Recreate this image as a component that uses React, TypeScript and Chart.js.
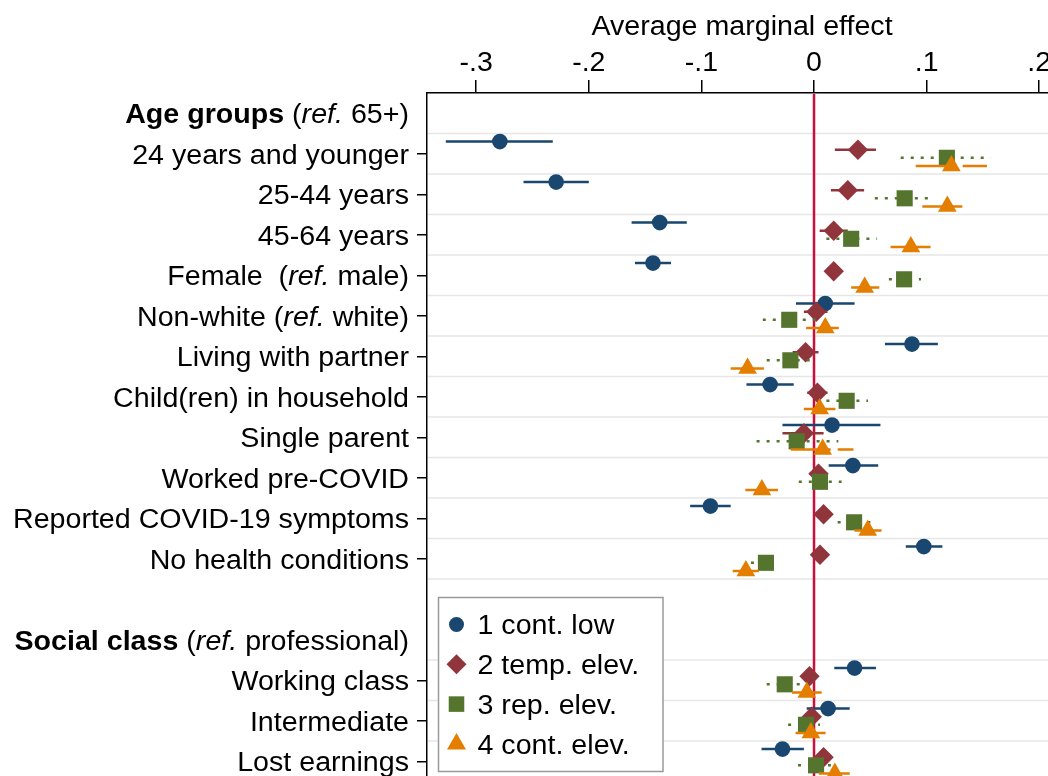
import React, { useEffect, useRef } from "react";
import { Chart, registerables } from "chart.js";

Chart.register(...registerables);

// ---------------- data ----------------
const rowLabels: string[] = [
  "**Age groups** (*ref.* 65+)",
  "24 years and younger",
  "25-44 years",
  "45-64 years",
  "Female  (*ref.* male)",
  "Non-white (*ref.* white)",
  "Living with partner",
  "Child(ren) in household",
  "Single parent",
  "Worked pre-COVID",
  "Reported COVID-19 symptoms",
  "No health conditions",
  "",
  "**Social class** (*ref.* professional)",
  "Working class",
  "Intermediate",
  "Lost earnings",
];

// rows (index into rowLabels) that carry coefficients
const coefRows = [1, 2, 3, 4, 5, 6, 7, 8, 9, 10, 11, 14, 15, 16];

const seriesNames = ["1 cont. low", "2 temp. elev.", "3 rep. elev.", "4 cont. elev."];

const contLowEst = [-0.279, -0.229, -0.137, -0.143, 0.01, 0.087, -0.039, 0.016, 0.0345, -0.092, 0.0975, 0.036, 0.0125, -0.028];
const contLowLo = [-0.327, -0.258, -0.162, -0.159, -0.016, 0.063, -0.06, -0.028, 0.013, -0.11, 0.0815, 0.018, -0.0065, -0.0466];
const contLowHi = [-0.232, -0.2, -0.113, -0.127, 0.036, 0.11, -0.018, 0.059, 0.057, -0.074, 0.114, 0.055, 0.0317, -0.009];

const tempElevEst = [0.039, 0.03, 0.0175, 0.0175, 0.002, -0.0075, 0.003, -0.009, 0.004, 0.0085, 0.0053, -0.004, -0.002, 0.0085];
const tempElevLo = [0.0185, 0.015, 0.005, 0.011, -0.009, -0.019, -0.006, -0.028, -0.004, 0.001, -0.002, -0.011, -0.009, 0.001];
const tempElevHi = [0.055, 0.0445, 0.03, 0.024, 0.012, 0.004, 0.012, 0.0085, 0.012, 0.016, 0.0125, 0.003, 0.005, 0.016];

const repElevEst = [0.118, 0.0805, 0.033, 0.08, -0.022, -0.021, 0.029, -0.0154, 0.0053, 0.0356, -0.0427, -0.026, -0.0071, 0.0018];
const repElevLo = [0.077, 0.054, 0.011, 0.0665, -0.0455, -0.042, 0.011, -0.051, -0.0135, 0.021, -0.056, -0.042, -0.023, -0.0142];
const repElevHi = [0.157, 0.103, 0.056, 0.095, 0.0025, -0.003, 0.048, 0.0216, 0.0245, 0.05, -0.0295, -0.0117, 0.0053, 0.015];

const contElevEst = [0.122, 0.1184, 0.086, 0.045, 0.01, -0.059, 0.005, 0.0077, -0.0463, 0.0477, -0.0605, -0.0064, -0.0028, 0.0185];
const contElevLo = [0.0903, 0.0962, 0.068, 0.033, -0.007, -0.074, -0.009, -0.0207, -0.061, 0.036, -0.0722, -0.0196, -0.0164, 0.0043];
const contElevHi = [0.1536, 0.134, 0.106, 0.058, 0.022, -0.0445, 0.019, 0.035, -0.032, 0.06, -0.049, 0.0068, 0.0103, 0.0317];

const xTickValues = [-0.3, -0.2, -0.1, 0, 0.1, 0.2];
const xTickLabels = ["-.3", "-.2", "-.1", "0", ".1", ".2"];
const xTitle = "Average marginal effect";

// ---------------- styling / layout ----------------
const FAMILY = "'Liberation Sans', Arial, Helvetica, sans-serif";
const W = 1048;
const H = 776;
const X_MIN = -0.3437;
const X_MAX = 0.2078;
const Y_MIN = -0.5;
const Y_MAX = 16.364;
const OFFSETS = [-0.3, -0.1, 0.1, 0.3];
const TEXT_SIZE = 27;
const TEXT_STRETCH = 1.06;
const TEXT_DY = 2.5;
const TITLE_CX = 742;
const TITLE_CY = 25;

type Series = {
  name: string;
  est: number[];
  lo: number[];
  hi: number[];
  color: string;
  marker: string;
  radius: number;
  dash: number[];
};

const SERIES: Series[] = [
  { name: seriesNames[0], est: contLowEst, lo: contLowLo, hi: contLowHi, color: "#1a476f", marker: "circle", radius: 7.8, dash: [] },
  { name: seriesNames[1], est: tempElevEst, lo: tempElevLo, hi: tempElevHi, color: "#90353b", marker: "rectRot", radius: 10.2, dash: [] },
  { name: seriesNames[2], est: repElevEst, lo: repElevLo, hi: repElevHi, color: "#55752f", marker: "rect", radius: 11.4, dash: [3, 7] },
  { name: seriesNames[3], est: contElevEst, lo: contElevLo, hi: contElevHi, color: "#e37e00", marker: "triangle", radius: 10.8, dash: [40, 7] },
];

type Seg = { text: string; bold: boolean; italic: boolean };
function parseMarkup(s: string): Seg[] {
  const parts = s.split(/(\*\*[^*]+\*\*|\*[^*]+\*)/).filter((p) => p.length > 0);
  return parts.map((p) => {
    if (p.startsWith("**")) return { text: p.slice(2, -2), bold: true, italic: false };
    if (p.startsWith("*")) return { text: p.slice(1, -1), bold: false, italic: true };
    return { text: p, bold: false, italic: false };
  });
}

function segFont(s: Seg) {
  return `${s.italic ? "italic " : ""}${s.bold ? "bold " : ""}${TEXT_SIZE}px ${FAMILY}`;
}

function drawRich(ctx: CanvasRenderingContext2D, markup: string, x: number, cy: number, align: "left" | "right" | "center") {
  const segs = parseMarkup(markup);
  let total = 0;
  const widths = segs.map((s) => {
    ctx.font = segFont(s);
    const w = ctx.measureText(s.text).width;
    total += w;
    return w;
  });
  ctx.save();
  ctx.translate(x, cy + TEXT_DY);
  ctx.scale(TEXT_STRETCH, 1);
  ctx.textAlign = "left";
  ctx.textBaseline = "middle";
  ctx.fillStyle = "#000";
  let cx = align === "right" ? -total : align === "center" ? -total / 2 : 0;
  segs.forEach((s, i) => {
    ctx.font = segFont(s);
    ctx.fillText(s.text, cx, 0);
    cx += widths[i];
  });
  ctx.restore();
}

function drawMarker(ctx: CanvasRenderingContext2D, style: string, x: number, y: number, r: number, color: string) {
  ctx.save();
  ctx.fillStyle = color;
  ctx.beginPath();
  if (style === "circle") {
    ctx.arc(x, y, r, 0, Math.PI * 2);
  } else if (style === "rectRot") {
    ctx.moveTo(x - r, y);
    ctx.lineTo(x, y - r);
    ctx.lineTo(x + r, y);
    ctx.lineTo(x, y + r);
    ctx.closePath();
  } else if (style === "rect") {
    const h = r * Math.SQRT1_2;
    ctx.rect(x - h, y - h, 2 * h, 2 * h);
  } else {
    ctx.moveTo(x, y - r);
    ctx.lineTo(x + 0.8660254 * r, y + 0.5 * r);
    ctx.lineTo(x - 0.8660254 * r, y + 0.5 * r);
    ctx.closePath();
  }
  ctx.fill();
  ctx.restore();
}

const decorPlugin = {
  id: "decor",
  beforeDatasetsDraw(chart: any) {
    const { ctx, chartArea } = chart;
    const x = chart.scales.x;
    const y = chart.scales.y;
    ctx.save();
    const bounds = new Set<number>();
    coefRows.forEach((r) => {
      bounds.add(r - 0.5);
      bounds.add(r + 0.5);
    });
    ctx.strokeStyle = "#e6e6e6";
    ctx.lineWidth = 1.6;
    bounds.forEach((b) => {
      const py = y.getPixelForValue(b);
      ctx.beginPath();
      ctx.moveTo(chartArea.left + 1, py);
      ctx.lineTo(chartArea.right, py);
      ctx.stroke();
    });
    const px = x.getPixelForValue(0);
    ctx.strokeStyle = "rgb(200,16,58)";
    ctx.lineWidth = 2.5;
    ctx.beginPath();
    ctx.moveTo(px, chartArea.top + 1);
    ctx.lineTo(px, chartArea.bottom);
    ctx.stroke();
    ctx.restore();
  },
  afterDraw(chart: any) {
    const { ctx, chartArea } = chart;
    const y = chart.scales.y;
    // axis title
    drawRich(ctx, xTitle, TITLE_CX, TITLE_CY, "center");
    // category labels
    rowLabels.forEach((lab, i) => {
      if (!lab) return;
      drawRich(ctx, lab, chartArea.left - 18, y.getPixelForValue(i), "right");
    });
    // legend
    const lx = chartArea.left + 11.5;
    const ly = chartArea.top + 504.5;
    const lw = 224.5;
    const lh = 174;
    ctx.save();
    ctx.fillStyle = "#fff";
    ctx.fillRect(lx, ly, lw, lh);
    ctx.strokeStyle = "#9a9a9a";
    ctx.lineWidth = 1.5;
    ctx.strokeRect(lx, ly, lw, lh);
    ctx.restore();
    SERIES.forEach((s, k) => {
      const cy = ly + 27 + k * 39.8;
      const r = s.marker === "circle" ? 7.5 : s.marker === "rectRot" ? 10 : 11;
      drawMarker(ctx, s.marker, lx + 18, cy, r, s.color);
      drawRich(ctx, s.name, lx + 39, cy, "left");
    });
  },
};

function buildDatasets() {
  const ds: any[] = [];
  SERIES.forEach((s, k) => {
    const ci: any[] = [];
    coefRows.forEach((r, i) => {
      const yy = r + OFFSETS[k];
      ci.push({ x: s.lo[i], y: yy }, { x: s.hi[i], y: yy }, { x: s.hi[i], y: null });
    });
    ds.push({
      type: "line",
      label: s.name + " CI",
      data: ci,
      borderColor: s.color,
      backgroundColor: s.color,
      borderWidth: 2.5,
      borderDash: s.dash,
      pointRadius: 0,
      pointHoverRadius: 0,
      showLine: true,
      spanGaps: false,
      fill: false,
      tension: 0,
      order: 8 - 2 * k,
    });
    ds.push({
      type: "scatter",
      label: s.name,
      data: coefRows.map((r, i) => ({ x: s.est[i], y: r + OFFSETS[k] })),
      pointStyle: s.marker,
      pointRadius: s.radius,
      pointHoverRadius: s.radius,
      backgroundColor: s.color,
      borderColor: s.color,
      pointBorderWidth: 0,
      showLine: false,
      order: 7 - 2 * k,
    });
  });
  return ds;
}

export default function App() {
  const ref = useRef<HTMLCanvasElement>(null);
  useEffect(() => {
    if (!ref.current) return;
    const chart = new Chart(ref.current, {
      type: "scatter",
      data: { datasets: buildDatasets() },
      plugins: [decorPlugin],
      options: {
        animation: false,
        responsive: false,
        devicePixelRatio: 1,
        events: [],
        layout: { padding: 0, autoPadding: false },
        plugins: { legend: { display: false }, tooltip: { enabled: false } },
        scales: {
          x: {
            type: "linear",
            position: "top",
            min: X_MIN,
            max: X_MAX,
            afterBuildTicks: (sc: any) => {
              sc.ticks = xTickValues.map((v) => ({ value: v }));
            },
            afterFit: (sc: any) => {
              sc.height = 93;
              sc.paddingLeft = 0;
              sc.paddingRight = 0;
            },
            ticks: {
              autoSkip: false,
              maxRotation: 0,
              padding: 0,
              color: "#000",
              font: { family: FAMILY, size: 28.5 },
              callback: (v: any) => {
                const idx = xTickValues.findIndex((t) => Math.abs(t - Number(v)) < 1e-9);
                return idx >= 0 ? xTickLabels[idx] : "";
              },
            },
            grid: { drawOnChartArea: false, drawTicks: true, tickLength: 13, color: "#000", lineWidth: 1.5 },
            border: { display: true, color: "#000", width: 1.5 },
            title: { display: false },
          },
          y: {
            type: "linear",
            position: "left",
            reverse: true,
            min: Y_MIN,
            max: Y_MAX,
            afterBuildTicks: (sc: any) => {
              sc.ticks = coefRows.map((v) => ({ value: v }));
            },
            afterFit: (sc: any) => {
              sc.width = 427;
              sc.paddingTop = 0;
              sc.paddingBottom = 0;
            },
            ticks: { display: false },
            grid: { drawOnChartArea: false, drawTicks: true, tickLength: 10, color: "#000", lineWidth: 1.5 },
            border: { display: true, color: "#000", width: 1.5 },
          },
        },
      } as any,
    } as any);
    return () => chart.destroy();
  }, []);
  return (
    <div style={{ position: "fixed", left: 0, top: 0, width: W, height: H, overflow: "hidden", background: "#fff" }}>
      <canvas ref={ref} width={W} height={H} style={{ display: "block", width: W, height: H }} />
    </div>
  );
}
